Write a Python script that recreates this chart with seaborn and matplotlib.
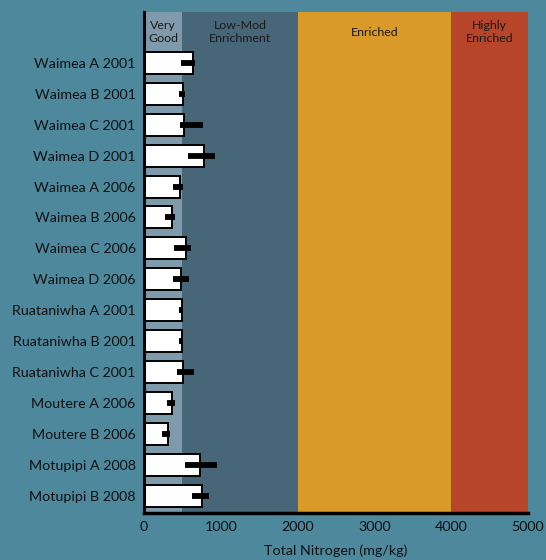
import matplotlib
matplotlib.use("Agg")
import matplotlib.pyplot as plt
import seaborn as sns
import pandas as pd
import numpy as np

sites = [
    "Waimea A 2001", "Waimea B 2001", "Waimea C 2001", "Waimea D 2001",
    "Waimea A 2006", "Waimea B 2006", "Waimea C 2006", "Waimea D 2006",
    "Ruataniwha A 2001", "Ruataniwha B 2001", "Ruataniwha C 2001",
    "Moutere A 2006", "Moutere B 2006", "Motupipi A 2008", "Motupipi B 2008",
]
mean_tn = [634, 512, 517, 785, 469, 360, 551, 486, 499, 499, 512, 369, 308, 729, 760]
err_low = [482, 456, 469, 569, 373, 273, 395, 378, 460, 460, 425, 304, 239, 534, 621]
err_high = [664, 534, 772, 929, 512, 404, 616, 582, 508, 508, 651, 404, 339, 946, 842]

band_edges = [0, 500, 2000, 4000, 5000]
band_labels = ["Very\nGood", "Low-Mod\nEnrichment", "Enriched", "Highly\nEnriched"]
band_colors = ["#7f9bab", "#476678", "#d99a2a", "#b6452a"]
x_ticks = [0, 1000, 2000, 3000, 4000, 5000]

bg = "#4e889d"
sns.set_theme(style="white")
plt.rcParams["font.family"] = ["Lato", "DejaVu Sans"]

fig = plt.figure(figsize=(5.46, 5.6), dpi=100, facecolor=bg)
ax = fig.add_axes([144 / 546, (560 - 513) / 560, (528 - 144) / 546, (513 - 12) / 560])
ax.set_facecolor(bg)

# guideline bands behind the bars
for i in range(len(band_labels)):
    ax.axvspan(band_edges[i], band_edges[i + 1], facecolor=band_colors[i], zorder=0, lw=0)

df = pd.DataFrame({"site": sites, "tn": mean_tn})
sns.barplot(data=df, x="tn", y="site", orient="h", color="white", width=0.71,
            edgecolor="black", linewidth=1.4, errorbar=None, ax=ax, zorder=2,
            saturation=1)
for container in ax.containers:
    for bar in container:
        bar.set_facecolor("white")

ypos = np.arange(len(sites))
mean_arr = np.array(mean_tn)
xerr = np.vstack([mean_arr - np.array(err_low), np.array(err_high) - mean_arr])
ax.errorbar(mean_arr, ypos, xerr=xerr, fmt="none", ecolor="black", elinewidth=4.2,
            capsize=0, zorder=3)

ax.set_xlim(0, 5000)
ax.set_ylim(14.55, -1.64)

for i, lab in enumerate(band_labels):
    xc = (band_edges[i] + band_edges[i + 1]) / 2
    ax.text(xc, -0.99, lab, ha="center", va="center", fontsize=8.9,
            color="#1a1a1a", linespacing=1.15, zorder=4)

ax.set_xticks(x_ticks)
ax.set_xticklabels([str(t) for t in x_ticks], fontsize=10.3, color="#111111")
ax.tick_params(axis="x", direction="in", length=8, width=2, color="black", pad=6)
ax.tick_params(axis="y", length=0, labelsize=10.3, labelcolor="#111111", pad=6)
ax.set_ylabel("")
ax.set_xlabel("Total Nitrogen (mg/kg)", fontsize=10.3, color="#111111", labelpad=8)

for side in ["top", "right"]:
    ax.spines[side].set_visible(False)
ax.spines["left"].set_linewidth(2.2)
ax.spines["left"].set_color("black")
ax.spines["bottom"].set_linewidth(2.5)
ax.spines["bottom"].set_color("black")
ax.spines["left"].set_zorder(5)
ax.spines["bottom"].set_zorder(5)

fig.savefig("out.png", dpi=100, facecolor=bg)
